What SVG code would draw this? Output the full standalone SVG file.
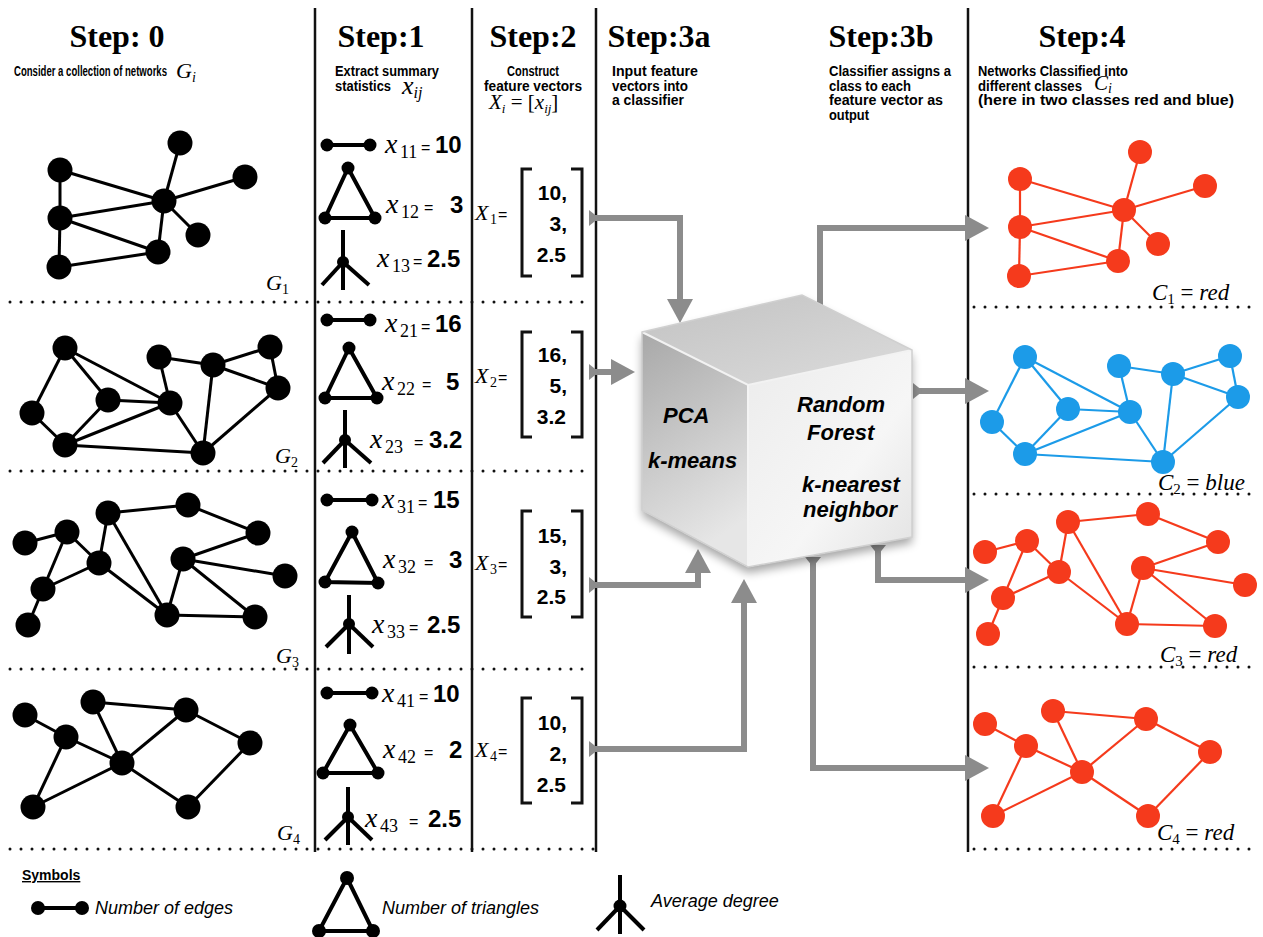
<svg xmlns="http://www.w3.org/2000/svg" width="1263" height="937" viewBox="0 0 1263 937">
<style>
.e line{stroke:#000;stroke-width:3}
.e circle{fill:#000}
.red line{stroke:#f53a1c;stroke-width:2.2}
.red circle{fill:#f53a1c}
.blue line{stroke:#1c9be8;stroke-width:2.2}
.blue circle{fill:#1c9be8}
.sym line,.sym polyline{stroke:#000;stroke-width:4;fill:none}
.sym circle{fill:#000}
.vline{stroke:#111;stroke-width:2.5}
.dots{stroke:#111;stroke-width:3;stroke-dasharray:0 11;stroke-linecap:round}
.arrow{stroke:#8c8c8c;stroke-width:6;fill:none}
.hdr{font-family:"Liberation Serif",serif;font-weight:bold;font-size:32px;text-anchor:middle}
.sub{font-family:"Liberation Sans",Arial,sans-serif;font-weight:bold;font-size:14.5px}
.mx{font-family:"Liberation Serif",serif;font-style:italic}
.ms{font-family:"Liberation Serif",serif;font-style:normal}
.eq{font-family:"Liberation Sans",sans-serif;font-size:16px}
.num{font-family:"Liberation Sans",sans-serif;font-weight:bold;font-size:24px}
.vec{font-family:"Liberation Sans",sans-serif;font-weight:bold;font-size:21px;text-anchor:end}
.brk{stroke:#111;stroke-width:3;fill:none}
.cubet{font-family:"Liberation Sans",sans-serif;font-weight:bold;font-style:italic;font-size:22px}
.leg{font-family:"Liberation Sans",sans-serif;font-style:italic;font-size:18px}
</style>
<defs>
<marker id="ah" markerUnits="userSpaceOnUse" markerWidth="26" markerHeight="26" refX="1" refY="13" orient="auto"><path d="M0,0 L24,13 L0,26 z" fill="#8c8c8c"/></marker>
<marker id="tail" markerUnits="userSpaceOnUse" markerWidth="12" markerHeight="16" refX="0" refY="8" orient="auto"><path d="M0,0 L10,8 L0,16 z" fill="#8c8c8c"/></marker>
<linearGradient id="gTop" x1="0" y1="0" x2="1" y2="1"><stop offset="0" stop-color="#c2c2c2"/><stop offset="1" stop-color="#dcdcdc"/></linearGradient>
<linearGradient id="gLeft" x1="0" y1="0" x2="0.3" y2="1"><stop offset="0" stop-color="#a8a8a8"/><stop offset="1" stop-color="#e6e6e6"/></linearGradient>
<linearGradient id="gRight" x1="0" y1="0" x2="1" y2="1"><stop offset="0" stop-color="#ececec"/><stop offset="0.6" stop-color="#f6f6f6"/><stop offset="1" stop-color="#e2e2e2"/></linearGradient>
<filter id="shadow" x="-20%" y="-20%" width="140%" height="150%"><feGaussianBlur in="SourceAlpha" stdDeviation="5"/><feOffset dx="0" dy="6"/><feComponentTransfer><feFuncA type="linear" slope="0.35"/></feComponentTransfer><feMerge><feMergeNode/><feMergeNode in="SourceGraphic"/></feMerge></filter>
</defs>
<rect width="1263" height="937" fill="#fff"/>

<g id="frame">
<line class="vline" x1="315" y1="8" x2="315" y2="852"/>
<line class="vline" x1="472" y1="8" x2="472" y2="852"/>
<line class="vline" x1="596" y1="8" x2="596" y2="852"/>
<line class="vline" x1="968" y1="8" x2="968" y2="852"/>
<line class="dots" x1="10" y1="302" x2="592" y2="302"/>
<line class="dots" x1="10" y1="471" x2="592" y2="471"/>
<line class="dots" x1="10" y1="669" x2="592" y2="669"/>
<line class="dots" x1="10" y1="849" x2="598" y2="849"/>
<line class="dots" x1="974" y1="307" x2="1258" y2="307"/>
<line class="dots" x1="974" y1="494" x2="1258" y2="494"/>
<line class="dots" x1="974" y1="667" x2="1258" y2="667"/>
<line class="dots" x1="974" y1="849" x2="1258" y2="849"/>
</g>

<g id="headers">
<text class="hdr" x="117" y="47">Step: 0</text>
<text class="hdr" x="381" y="47">Step:1</text>
<text class="hdr" x="533" y="47">Step:2</text>
<text class="hdr" x="659" y="47">Step:3a</text>
<text class="hdr" x="881" y="47">Step:3b</text>
<text class="hdr" x="1082" y="47">Step:4</text>
<text class="sub" x="14" y="76" textLength="153" lengthAdjust="spacingAndGlyphs">Consider a collection of networks</text>
<text x="176" y="78" class="mx" font-size="22">G<tspan font-size="14" dy="4">i</tspan></text>
<text class="sub" x="335" y="76" textLength="104" lengthAdjust="spacingAndGlyphs">Extract summary</text>
<text class="sub" x="335" y="91" textLength="56" lengthAdjust="spacingAndGlyphs">statistics</text>
<text x="402" y="94" class="mx" font-size="26">x<tspan font-size="16" dy="4">ij</tspan></text>
<text class="sub" x="533" y="76" text-anchor="middle" textLength="52" lengthAdjust="spacingAndGlyphs">Construct</text>
<text class="sub" x="533" y="90.5" text-anchor="middle" textLength="98" lengthAdjust="spacingAndGlyphs">feature vectors</text>
<text x="489" y="109" class="mx" font-size="21">X<tspan font-size="13" dy="4">i</tspan><tspan class="ms" dy="-4"> = [</tspan>x<tspan font-size="13" dy="4">ij</tspan><tspan class="ms" dy="-4">]</tspan></text>
<text class="sub" x="612" y="76" textLength="86" lengthAdjust="spacingAndGlyphs">Input  feature</text>
<text class="sub" x="612" y="90.5" textLength="76" lengthAdjust="spacingAndGlyphs">vectors into</text>
<text class="sub" x="612" y="105" textLength="72" lengthAdjust="spacingAndGlyphs">a classifier</text>
<text class="sub" x="829" y="76" textLength="122" lengthAdjust="spacingAndGlyphs">Classifier assigns a</text>
<text class="sub" x="829" y="90.5" textLength="82" lengthAdjust="spacingAndGlyphs">class to each</text>
<text class="sub" x="829" y="105" textLength="114" lengthAdjust="spacingAndGlyphs">feature vector as</text>
<text class="sub" x="829" y="119.5" textLength="40" lengthAdjust="spacingAndGlyphs">output</text>
<text class="sub" x="978" y="76" textLength="150" lengthAdjust="spacingAndGlyphs">Networks Classified into</text>
<text class="sub" x="978" y="90.5" textLength="104" lengthAdjust="spacingAndGlyphs">different classes</text>
<text x="1094" y="90" class="mx" font-size="21">C<tspan font-size="14" dy="3">i</tspan></text>
<text class="sub" x="978" y="105" textLength="256" lengthAdjust="spacingAndGlyphs">(here in  two classes red and blue)</text>
</g>

<g id="G1" class="e">
<line x1="60" y1="170" x2="60" y2="218"/><line x1="60" y1="218" x2="59" y2="267"/><line x1="60" y1="170" x2="164" y2="201"/><line x1="60" y1="218" x2="164" y2="201"/><line x1="60" y1="218" x2="158" y2="252"/><line x1="59" y1="267" x2="158" y2="252"/><line x1="164" y1="201" x2="158" y2="252"/><line x1="164" y1="201" x2="180" y2="143"/><line x1="164" y1="201" x2="245" y2="177"/><line x1="164" y1="201" x2="198" y2="235"/>
<circle cx="60" cy="170" r="12.5"/><circle cx="60" cy="218" r="12.5"/><circle cx="59" cy="267" r="12.5"/><circle cx="164" cy="201" r="12.5"/><circle cx="180" cy="143" r="12.5"/><circle cx="245" cy="177" r="12.5"/><circle cx="198" cy="235" r="12.5"/><circle cx="158" cy="252" r="12.5"/>
<text x="266" y="290" class="mx" font-size="22">G<tspan class="ms" font-size="14" dy="4">1</tspan></text>
</g>

<g id="G2" class="e">
<line x1="65" y1="348" x2="32" y2="413"/><line x1="32" y1="413" x2="65" y2="445"/><line x1="65" y1="348" x2="108" y2="400"/><line x1="65" y1="348" x2="170" y2="403"/><line x1="108" y1="400" x2="65" y2="445"/><line x1="108" y1="400" x2="170" y2="403"/><line x1="65" y1="445" x2="170" y2="403"/><line x1="65" y1="445" x2="203" y2="453"/><line x1="170" y1="403" x2="203" y2="453"/><line x1="170" y1="403" x2="159" y2="357"/><line x1="159" y1="357" x2="213" y2="365"/><line x1="213" y1="365" x2="270" y2="347"/><line x1="270" y1="347" x2="278" y2="388"/><line x1="213" y1="365" x2="278" y2="388"/><line x1="213" y1="365" x2="203" y2="453"/><line x1="278" y1="388" x2="203" y2="453"/>
<circle cx="65" cy="348" r="12.5"/><circle cx="32" cy="413" r="12.5"/><circle cx="65" cy="445" r="12.5"/><circle cx="108" cy="400" r="12.5"/><circle cx="170" cy="403" r="12.5"/><circle cx="159" cy="357" r="12.5"/><circle cx="213" cy="365" r="12.5"/><circle cx="270" cy="347" r="12.5"/><circle cx="278" cy="388" r="12.5"/><circle cx="203" cy="453" r="12.5"/>
<text x="275" y="463" class="mx" font-size="22">G<tspan class="ms" font-size="14" dy="4">2</tspan></text>
</g>

<g id="G3" class="e">
<line x1="25" y1="543" x2="67" y2="532"/><line x1="67" y1="532" x2="43" y2="589"/><line x1="67" y1="532" x2="99" y2="563"/><line x1="43" y1="589" x2="99" y2="563"/><line x1="43" y1="589" x2="28" y2="625"/><line x1="99" y1="563" x2="108" y2="513"/><line x1="108" y1="513" x2="188" y2="505"/><line x1="188" y1="505" x2="258" y2="533"/><line x1="258" y1="533" x2="183" y2="559"/><line x1="183" y1="559" x2="285" y2="576"/><line x1="183" y1="559" x2="255" y2="617"/><line x1="183" y1="559" x2="167" y2="615"/><line x1="167" y1="615" x2="255" y2="617"/><line x1="108" y1="513" x2="167" y2="615"/><line x1="99" y1="563" x2="167" y2="615"/>
<circle cx="25" cy="543" r="12.5"/><circle cx="67" cy="532" r="12.5"/><circle cx="108" cy="513" r="12.5"/><circle cx="99" cy="563" r="12.5"/><circle cx="43" cy="589" r="12.5"/><circle cx="28" cy="625" r="12.5"/><circle cx="188" cy="505" r="12.5"/><circle cx="258" cy="533" r="12.5"/><circle cx="183" cy="559" r="12.5"/><circle cx="285" cy="576" r="12.5"/><circle cx="167" cy="615" r="12.5"/><circle cx="255" cy="617" r="12.5"/>
<text x="276" y="663" class="mx" font-size="22">G<tspan class="ms" font-size="14" dy="4">3</tspan></text>
</g>

<g id="G4" class="e">
<line x1="25" y1="715" x2="66" y2="737"/><line x1="66" y1="737" x2="122" y2="763"/><line x1="66" y1="737" x2="33" y2="807"/><line x1="33" y1="807" x2="122" y2="763"/><line x1="93" y1="702" x2="122" y2="763"/><line x1="93" y1="702" x2="186" y2="710"/><line x1="122" y1="763" x2="186" y2="710"/><line x1="186" y1="710" x2="250" y2="743"/><line x1="250" y1="743" x2="188" y2="807"/><line x1="122" y1="763" x2="188" y2="807"/>
<circle cx="25" cy="715" r="12.5"/><circle cx="66" cy="737" r="12.5"/><circle cx="93" cy="702" r="12.5"/><circle cx="122" cy="763" r="12.5"/><circle cx="186" cy="710" r="12.5"/><circle cx="250" cy="743" r="12.5"/><circle cx="33" cy="807" r="12.5"/><circle cx="188" cy="807" r="12.5"/>
<text x="277" y="840" class="mx" font-size="22">G<tspan class="ms" font-size="14" dy="4">4</tspan></text>
</g>

<g id="stats1">
<g class="sym"><line x1="327" y1="145" x2="370" y2="145"/><circle cx="327" cy="145" r="6.5"/><circle cx="370" cy="145" r="6.5"/>
<polyline points="348,168 325,218 375,218 348,168"/><circle cx="348" cy="168" r="6.5"/><circle cx="325" cy="218" r="6.5"/><circle cx="375" cy="218" r="6.5"/>
<line x1="343" y1="230" x2="343" y2="290"/><line x1="343" y1="262" x2="322" y2="285"/><line x1="343" y1="262" x2="369" y2="285"/><circle cx="343" cy="262" r="6"/></g>
<text y="153"><tspan class="mx" font-size="28" x="385">x</tspan><tspan class="ms" font-size="18" x="400" y="158">11</tspan><tspan class="eq" x="421" y="153">=</tspan><tspan class="num" x="435">10</tspan></text>
<text y="213"><tspan class="mx" font-size="28" x="386">x</tspan><tspan class="ms" font-size="18" x="401" y="218">12</tspan><tspan class="eq" x="424" y="213">=</tspan><tspan class="num" x="450">3</tspan></text>
<text y="267"><tspan class="mx" font-size="28" x="377">x</tspan><tspan class="ms" font-size="18" x="392" y="272">13</tspan><tspan class="eq" x="413" y="267">=</tspan><tspan class="num" x="427">2.5</tspan></text>
</g>

<g id="stats2">
<g class="sym"><line x1="327" y1="320" x2="370" y2="320"/><circle cx="327" cy="320" r="6.5"/><circle cx="370" cy="320" r="6.5"/>
<polyline points="349,348 325,398 377,398 349,348"/><circle cx="349" cy="348" r="6.5"/><circle cx="325" cy="398" r="6.5"/><circle cx="377" cy="398" r="6.5"/>
<line x1="345" y1="410" x2="345" y2="468"/><line x1="345" y1="440" x2="323" y2="463"/><line x1="345" y1="440" x2="371" y2="463"/><circle cx="345" cy="440" r="6"/></g>
<text y="332"><tspan class="mx" font-size="28" x="385">x</tspan><tspan class="ms" font-size="18" x="400" y="337">21</tspan><tspan class="eq" x="421" y="332">=</tspan><tspan class="num" x="435">16</tspan></text>
<text y="390"><tspan class="mx" font-size="28" x="382">x</tspan><tspan class="ms" font-size="18" x="397" y="395">22</tspan><tspan class="eq" x="422" y="390">=</tspan><tspan class="num" x="446">5</tspan></text>
<text y="448"><tspan class="mx" font-size="28" x="370">x</tspan><tspan class="ms" font-size="18" x="385" y="453">23</tspan><tspan class="eq" x="414" y="448">=</tspan><tspan class="num" x="429">3.2</tspan></text>
</g>

<g id="stats3">
<g class="sym"><line x1="327" y1="500" x2="372" y2="500"/><circle cx="327" cy="500" r="6.5"/><circle cx="372" cy="500" r="6.5"/>
<polyline points="352,532 325,582 378,583 352,532"/><circle cx="352" cy="532" r="6.5"/><circle cx="325" cy="582" r="6.5"/><circle cx="378" cy="583" r="6.5"/>
<line x1="349" y1="595" x2="349" y2="654"/><line x1="349" y1="624" x2="326" y2="647"/><line x1="349" y1="624" x2="373" y2="647"/><circle cx="349" cy="624" r="6"/></g>
<text y="508"><tspan class="mx" font-size="28" x="382">x</tspan><tspan class="ms" font-size="18" x="397" y="513">31</tspan><tspan class="eq" x="418" y="508">=</tspan><tspan class="num" x="433">15</tspan></text>
<text y="568"><tspan class="mx" font-size="28" x="383">x</tspan><tspan class="ms" font-size="18" x="398" y="573">32</tspan><tspan class="eq" x="424" y="568">=</tspan><tspan class="num" x="449">3</tspan></text>
<text y="633"><tspan class="mx" font-size="28" x="372">x</tspan><tspan class="ms" font-size="18" x="387" y="638">33</tspan><tspan class="eq" x="409" y="633">=</tspan><tspan class="num" x="427">2.5</tspan></text>
</g>

<g id="stats4">
<g class="sym"><line x1="327" y1="693" x2="372" y2="693"/><circle cx="327" cy="693" r="6.5"/><circle cx="372" cy="693" r="6.5"/>
<polyline points="350,725 323,773 378,773 350,725"/><circle cx="350" cy="725" r="6.5"/><circle cx="323" cy="773" r="6.5"/><circle cx="378" cy="773" r="6.5"/>
<line x1="348" y1="787" x2="348" y2="845"/><line x1="348" y1="817" x2="325" y2="840"/><line x1="348" y1="817" x2="372" y2="840"/><circle cx="348" cy="817" r="6"/></g>
<text y="702"><tspan class="mx" font-size="28" x="382">x</tspan><tspan class="ms" font-size="18" x="397" y="707">41</tspan><tspan class="eq" x="419" y="702">=</tspan><tspan class="num" x="433">10</tspan></text>
<text y="758"><tspan class="mx" font-size="28" x="383">x</tspan><tspan class="ms" font-size="18" x="398" y="763">42</tspan><tspan class="eq" x="424" y="758">=</tspan><tspan class="num" x="449">2</tspan></text>
<text y="827"><tspan class="mx" font-size="28" x="365">x</tspan><tspan class="ms" font-size="18" x="380" y="832">43</tspan><tspan class="eq" x="409" y="827">=</tspan><tspan class="num" x="428">2.5</tspan></text>
</g>

<g id="X1">
<text y="220"><tspan class="mx" font-size="22" x="475">X</tspan><tspan class="ms" font-size="14" x="490" y="224">1</tspan><tspan class="eq" x="498" y="220">=</tspan></text>
<path class="brk" d="M532,169 H522 V276 H532 M571,169 H582 V276 H571"/>
<text class="vec" x="567" y="200">10,</text><text class="vec" x="567" y="231">3,</text><text class="vec" x="566" y="262">2.5</text>
</g>
<g id="X2">
<text y="383"><tspan class="mx" font-size="22" x="475">X</tspan><tspan class="ms" font-size="14" x="490" y="387">2</tspan><tspan class="eq" x="498" y="383">=</tspan></text>
<path class="brk" d="M532,332 H522 V437 H532 M571,332 H582 V437 H571"/>
<text class="vec" x="567" y="362">16,</text><text class="vec" x="567" y="393">5,</text><text class="vec" x="566" y="424">3.2</text>
</g>
<g id="X3">
<text y="570"><tspan class="mx" font-size="22" x="475">X</tspan><tspan class="ms" font-size="14" x="490" y="574">3</tspan><tspan class="eq" x="498" y="570">=</tspan></text>
<path class="brk" d="M532,511 H522 V617 H532 M571,511 H582 V617 H571"/>
<text class="vec" x="567" y="543">15,</text><text class="vec" x="567" y="574">3,</text><text class="vec" x="566" y="604">2.5</text>
</g>
<g id="X4">
<text y="757"><tspan class="mx" font-size="22" x="475">X</tspan><tspan class="ms" font-size="14" x="490" y="761">4</tspan><tspan class="eq" x="498" y="757">=</tspan></text>
<path class="brk" d="M532,698 H522 V803 H532 M571,698 H582 V803 H571"/>
<text class="vec" x="567" y="730">10,</text><text class="vec" x="567" y="761">2,</text><text class="vec" x="566" y="792">2.5</text>
</g>

<g id="connectors">
<path class="arrow" d="M589,218 H680 V300" marker-start="url(#tail)" marker-end="url(#ah)"/>
<path class="arrow" d="M589,372 H612" marker-start="url(#tail)" marker-end="url(#ah)"/>
<path class="arrow" d="M589,585 H698 V572" marker-start="url(#tail)" marker-end="url(#ah)"/>
<path class="arrow" d="M589,749 H744 V602" marker-start="url(#tail)" marker-end="url(#ah)"/>
<path class="arrow" d="M820,312 V228 H966" marker-start="url(#tail)" marker-end="url(#ah)"/>
<path class="arrow" d="M913,391 H966" marker-start="url(#tail)" marker-end="url(#ah)"/>
<path class="arrow" d="M878,545 V580 H966" marker-start="url(#tail)" marker-end="url(#ah)"/>
<path class="arrow" d="M813,557 V768 H966" marker-start="url(#tail)" marker-end="url(#ah)"/>
</g>

<g id="classifier">
<g filter="url(#shadow)">
<polygon points="642,332 802,295 912,350 748,385" fill="url(#gTop)"/>
<polygon points="642,332 748,385 748,567 642,510" fill="url(#gLeft)"/>
<polygon points="748,385 912,350 912,537 748,567" fill="url(#gRight)"/>
</g>
<polyline points="642,332 748,385 912,350" fill="none" stroke="#f2f2f2" stroke-width="2"/>
<line x1="748" y1="385" x2="748" y2="567" stroke="#f4f4f4" stroke-width="2"/>
<polygon points="642,332 802,295 912,350 912,537 748,567 642,510" fill="none" stroke="#d0d0d0" stroke-width="1.5"/>
<text class="cubet" x="663" y="423">PCA</text>
<text class="cubet" x="648" y="468">k-means</text>
<text class="cubet" x="797" y="412">Random</text>
<text class="cubet" x="807" y="440">Forest</text>
<text class="cubet" x="802" y="492">k-nearest</text>
<text class="cubet" x="803" y="517">neighbor</text>
</g>

<g id="C1" class="e red">
<g transform="translate(960,9)">
<line x1="60" y1="170" x2="60" y2="218"/><line x1="60" y1="218" x2="59" y2="267"/><line x1="60" y1="170" x2="164" y2="201"/><line x1="60" y1="218" x2="164" y2="201"/><line x1="60" y1="218" x2="158" y2="252"/><line x1="59" y1="267" x2="158" y2="252"/><line x1="164" y1="201" x2="158" y2="252"/><line x1="164" y1="201" x2="180" y2="143"/><line x1="164" y1="201" x2="245" y2="177"/><line x1="164" y1="201" x2="198" y2="235"/>
<circle cx="60" cy="170" r="12"/><circle cx="60" cy="218" r="12"/><circle cx="59" cy="267" r="12"/><circle cx="164" cy="201" r="12"/><circle cx="180" cy="143" r="12"/><circle cx="245" cy="177" r="12"/><circle cx="198" cy="235" r="12"/><circle cx="158" cy="252" r="12"/>
</g>
<text x="1152" y="300" class="mx" font-size="23" fill="#000">C<tspan class="ms" font-size="15" dy="4">1</tspan><tspan class="ms" dy="-4"> = </tspan>red</text>
</g>

<g id="C2" class="e blue">
<g transform="translate(960,9)">
<line x1="65" y1="348" x2="32" y2="413"/><line x1="32" y1="413" x2="65" y2="445"/><line x1="65" y1="348" x2="108" y2="400"/><line x1="65" y1="348" x2="170" y2="403"/><line x1="108" y1="400" x2="65" y2="445"/><line x1="108" y1="400" x2="170" y2="403"/><line x1="65" y1="445" x2="170" y2="403"/><line x1="65" y1="445" x2="203" y2="453"/><line x1="170" y1="403" x2="203" y2="453"/><line x1="170" y1="403" x2="159" y2="357"/><line x1="159" y1="357" x2="213" y2="365"/><line x1="213" y1="365" x2="270" y2="347"/><line x1="270" y1="347" x2="278" y2="388"/><line x1="213" y1="365" x2="278" y2="388"/><line x1="213" y1="365" x2="203" y2="453"/><line x1="278" y1="388" x2="203" y2="453"/>
<circle cx="65" cy="348" r="12"/><circle cx="32" cy="413" r="12"/><circle cx="65" cy="445" r="12"/><circle cx="108" cy="400" r="12"/><circle cx="170" cy="403" r="12"/><circle cx="159" cy="357" r="12"/><circle cx="213" cy="365" r="12"/><circle cx="270" cy="347" r="12"/><circle cx="278" cy="388" r="12"/><circle cx="203" cy="453" r="12"/>
</g>
<text x="1158" y="490" class="mx" font-size="23" fill="#000">C<tspan class="ms" font-size="15" dy="4">2</tspan><tspan class="ms" dy="-4"> = </tspan>blue</text>
</g>

<g id="C3" class="e red">
<g transform="translate(960,9)">
<line x1="25" y1="543" x2="67" y2="532"/><line x1="67" y1="532" x2="43" y2="589"/><line x1="67" y1="532" x2="99" y2="563"/><line x1="43" y1="589" x2="99" y2="563"/><line x1="43" y1="589" x2="28" y2="625"/><line x1="99" y1="563" x2="108" y2="513"/><line x1="108" y1="513" x2="188" y2="505"/><line x1="188" y1="505" x2="258" y2="533"/><line x1="258" y1="533" x2="183" y2="559"/><line x1="183" y1="559" x2="285" y2="576"/><line x1="183" y1="559" x2="255" y2="617"/><line x1="183" y1="559" x2="167" y2="615"/><line x1="167" y1="615" x2="255" y2="617"/><line x1="108" y1="513" x2="167" y2="615"/><line x1="99" y1="563" x2="167" y2="615"/>
<circle cx="25" cy="543" r="12"/><circle cx="67" cy="532" r="12"/><circle cx="108" cy="513" r="12"/><circle cx="99" cy="563" r="12"/><circle cx="43" cy="589" r="12"/><circle cx="28" cy="625" r="12"/><circle cx="188" cy="505" r="12"/><circle cx="258" cy="533" r="12"/><circle cx="183" cy="559" r="12"/><circle cx="285" cy="576" r="12"/><circle cx="167" cy="615" r="12"/><circle cx="255" cy="617" r="12"/>
</g>
<text x="1160" y="662" class="mx" font-size="23" fill="#000">C<tspan class="ms" font-size="15" dy="4">3</tspan><tspan class="ms" dy="-4"> = </tspan>red</text>
</g>

<g id="C4" class="e red">
<g transform="translate(960,9)">
<line x1="25" y1="715" x2="66" y2="737"/><line x1="66" y1="737" x2="122" y2="763"/><line x1="66" y1="737" x2="33" y2="807"/><line x1="33" y1="807" x2="122" y2="763"/><line x1="93" y1="702" x2="122" y2="763"/><line x1="93" y1="702" x2="186" y2="710"/><line x1="122" y1="763" x2="186" y2="710"/><line x1="186" y1="710" x2="250" y2="743"/><line x1="250" y1="743" x2="188" y2="807"/><line x1="122" y1="763" x2="188" y2="807"/>
<circle cx="25" cy="715" r="12"/><circle cx="66" cy="737" r="12"/><circle cx="93" cy="702" r="12"/><circle cx="122" cy="763" r="12"/><circle cx="186" cy="710" r="12"/><circle cx="250" cy="743" r="12"/><circle cx="33" cy="807" r="12"/><circle cx="188" cy="807" r="12"/>
</g>
<text x="1157" y="840" class="mx" font-size="23" fill="#000">C<tspan class="ms" font-size="15" dy="4">4</tspan><tspan class="ms" dy="-4"> = </tspan>red</text>
</g>

<g id="legend">
<text x="22" y="880" font-family="Liberation Sans, sans-serif" font-weight="bold" font-size="14" text-decoration="underline">Symbols</text>
<g class="sym">
<line x1="38" y1="908" x2="82" y2="908"/><circle cx="38" cy="908" r="7"/><circle cx="82" cy="908" r="7"/>
<polyline points="347,878 319,931 373,931 347,878"/><circle cx="347" cy="878" r="7"/><circle cx="319" cy="931" r="7"/><circle cx="373" cy="931" r="7"/>
<line x1="620" y1="875" x2="620" y2="934"/><line x1="620" y1="906" x2="597" y2="930"/><line x1="620" y1="906" x2="644" y2="930"/><circle cx="620" cy="906" r="6.5"/>
</g>
<text class="leg" x="95" y="914">Number of edges</text>
<text class="leg" x="382" y="914">Number of triangles</text>
<text class="leg" x="651" y="907">Average degree</text>
</g>
</svg>
